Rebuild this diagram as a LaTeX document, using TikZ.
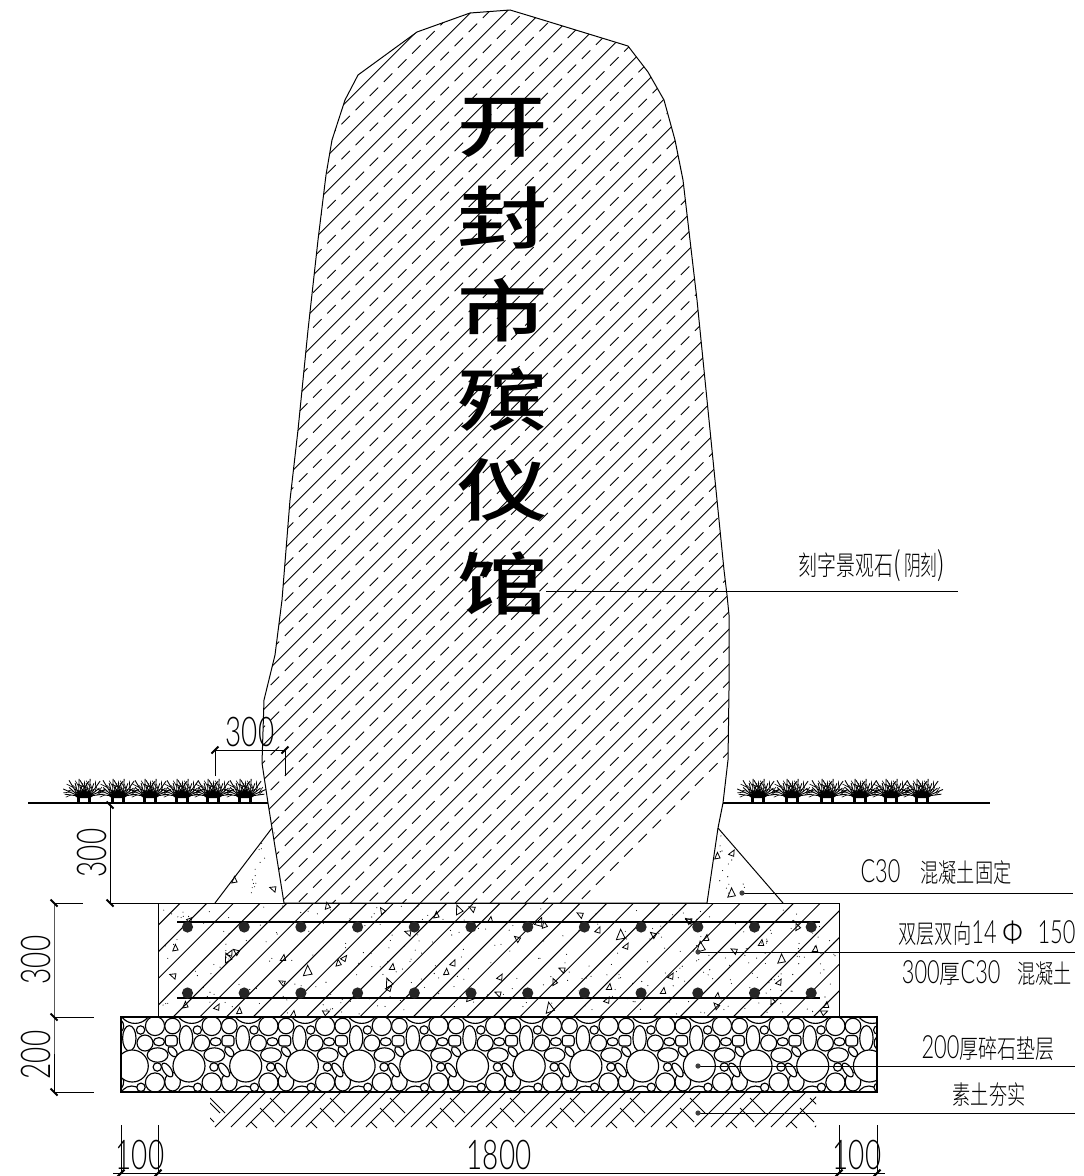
\documentclass[tikz,border=0pt]{standalone}
\usepackage{fontspec}
\setmainfont{Liberation Sans}
\newfontfamily\numf[UprightFont=* Light]{Lato}
\newfontfamily\cjk{Noto Sans CJK SC Light}
\newfontfamily\cjkb{Noto Sans CJK SC Medium}
\usetikzlibrary{calc}
\newcommand{\numtxt}[2]{\scalebox{0.68}[1]{\fontsize{#1}{#1}\selectfont\numf #2}}
\newcommand{\cjktxt}[3]{\scalebox{#2}[1]{\fontsize{#1}{#1}\selectfont\cjk #3}}
\newcommand{\titlechar}[1]{\scalebox{1.33}[1]{\fontsize{68}{68}\selectfont\cjkb #1}}
\tikzset{
  x=1pt,y=-1pt,
  outline/.style={line width=1pt,black},
  leader/.style={line width=1pt,black},
  dimln/.style={line width=0.9pt,black},
  dimtick/.style={line width=2.1pt,black},
  stone/.style={line width=1.15pt,draw=black,fill=white},
  lbl/.style={inner sep=0pt,outer sep=0pt,anchor=center},
  pics/tickb/.style={code={\draw[dimtick] (-3.5,-3.5) -- (3.5,3.5);}},
  pics/tickf/.style={code={\draw[dimtick] (-3.5,3.5) -- (3.5,-3.5);}},
  pics/bushy/.style={code={
    \foreach \tx in {-5.5,5.5}{
      \draw[line width=3.6pt] (\tx,0) -- (\tx,-7);
      \foreach \a/\r in {8/14,24/17,40/13,56/19,72/14,88/18,104/14,120/19,136/13,154/17,172/14}{
        \draw[line width=0.9pt] (\tx,-6) -- ++({\a}:{\r} and {-\r*0.95});
        \draw[line width=0.6pt] ($(\tx,-6)+({\a}:{\r*0.55} and {-\r*0.52})$) -- ++({\a+32}:{\r*0.4} and {-\r*0.38});
      }
    }
    \fill (-9,-6) -- (0,-12) -- (9,-6) -- (6,-4) -- (-6,-4) -- cycle;
  }},
}
\newcommand{\tri}[4]{\draw[line width=0.8pt,rotate around={#3:(#1,#2)}] (#1,#2)++(-#4*0.55,#4*0.5) -- ++(#4*1.1,0) -- ++(-#4*0.35,-#4*1.2) -- cycle;}
\begin{document}
\begin{tikzpicture}
\useasboundingbox (0,0) rectangle (1084,1176);
\fill[white] (0,0) rectangle (1084,1176);

% ---------- slab hatch
\begin{scope}
\clip (158,903) rectangle (839,1017);
\foreach \k in {0,...,36}{
  \pgfmathsetmacro\c{1056.7+26.67*\k}
  \draw[line width=1pt] (100,\c-100) -- (900,\c-900);
}
\end{scope}

% ---------- concrete haunches
\coordinate (hl1) at (215,903); \coordinate (hl2) at (272,828);
\coordinate (hr1) at (783,903); \coordinate (hr2) at (718,828);
\draw[outline] (hl1) -- (hl2);
\draw[outline] (hr1) -- (hr2);

% ---------- random speckle
\pgfmathsetseed{4711}
\foreach \i in {1,...,330}{
  \pgfmathsetmacro\px{161+rnd*675}
  \pgfmathsetmacro\py{906+rnd*108}
  \fill (\px,\py) circle[radius=0.55];
}
\foreach \i in {1,...,14}{
  \pgfmathsetmacro\py{rnd}
  \pgfmathsetmacro\pz{rnd}
  \fill ({270-\py*30-\pz*(22*(1-\py))+10},{832+\py*68}) circle[radius=0.55];
  \fill ({722+\py*40-\pz*(35*\py+6)},{835+\py*65}) circle[radius=0.55];
}

% ---------- aggregate triangles
\foreach \x/\y/\a/\s in {
234/880/10/5,273/889/80/5,327/906/20/5,382/911/40/5,190/921/200/5,175/948/10/5,173/976/80/5,
227/958/30/7,230/953/-20/5,236/952/60/5,283/958/0/5,307/971/10/8,282/983/70/5,338/963/15/5,344/958/-30/5,392/967/0/5,
388/983/30/7,389/988/-30/5,185/1005/10/5,217/1007/-20/5,239/1011/5/5,293/1014/0/5,326/1012/-60/5,
436/915/10/5,458/910/30/7,472/909/70/5,408/933/80/5,490/920/0/5,539/922/-15/7,544/925/20/5,580/915/70/5,598/930/-15/5,
517/939/60/5,620/935/10/8,626/946/-20/5,653/935/60/5,689/921/80/5,453/963/-15/5,446/972/5/5,500/977/-20/5,562/970/75/5,
554/982/30/5,671/976/-20/5,609/987/0/5,663/991/0/5,498/994/75/5,469/997/20/7,607/1000/-20/5,549/1008/20/8,
717/856/10/5,732/853/-20/5,731/893/10/7,688/921/60/5,797/927/30/5,706/938/0/5,700/947/15/8,761/943/0/5,734/951/70/5,
815/949/0/5,781/959/10/7,779/982/-20/5,717/996/0/5,772/1001/30/5,716/1006/50/5,826/1005/0/5,824/1012/-60/5}{
  \tri{\x}{\y}{\a}{\s}
}

% ---------- reinforcement
\coordinate (rt1) at (177,922); \coordinate (rt2) at (820,922);
\coordinate (rb1) at (177,998); \coordinate (rb2) at (820,998);
\draw[line width=1.1pt] (rt1) -- (rt2);
\draw[line width=1.1pt] (rb1) -- (rb2);
\foreach \i in {0,...,11}{
  \fill[black!85] ({187.5+56.7*\i},927) circle[radius=5.6];
  \fill[black!85] ({187.5+56.7*\i},993) circle[radius=5.6];
}

% ---------- slab outline
\coordinate (sl1) at (158,903); \coordinate (sl2) at (839,1017);
\draw[outline] (sl1) rectangle (sl2);

% ---------- soil hatch
\begin{scope}
\clip (210,1092) rectangle (816,1128);
\foreach \k in {0,...,10}{
  \pgfmathsetmacro\a{215+60*\k}
  \draw[line width=0.95pt] (\a,1127) -- ++(50,-50);
  \draw[line width=0.95pt] (\a+16,1127) -- ++(50,-50);
  \draw[line width=0.95pt] (\a+31,1127) -- ++(50,-50);
  \draw[line width=0.95pt] (\a+36,1122) -- ++(6,6);
  \draw[line width=0.95pt] (\a-15,1108) -- ++(14,14);
  \draw[line width=0.95pt] (\a-5,1098) -- ++(15,15);
}
\draw[line width=0.95pt] (205,1098) -- ++(15,15);
\end{scope}

% ---------- gravel
\begin{scope}
\clip (121,1017) rectangle (877,1092);
\foreach \k in {-3,...,11}{
  \begin{scope}[xshift={(245.7+56.7*\k)*1pt}]
    \draw[stone] (2.7,1006.7) circle[radius=16.7];
    \draw[stone] (-0.5,1098) circle[radius=12];
    \draw[stone] (-3,1038.3) ellipse[x radius=6.7,y radius=12.7];
    \draw[stone] (22.7,1082.5) circle[radius=9.6];
    \draw[stone] (40.3,1081.7) ellipse[x radius=7.8,y radius=9.3];
    \draw[stone] (25.3,1055) ellipse[x radius=10.4,y radius=7.2];
    \draw[stone] (22.7,1026) circle[radius=9.6];
    \draw[stone] (40.3,1026) circle[radius=7.8];
    \draw[stone] (12.7,1043) circle[radius=8];
    \draw[stone] (0,1066) circle[radius=16];
    \draw[stone,rotate around={35:(35,1070)}] (35,1070) ellipse[x radius=3.8,y radius=8];
    \draw[stone,rotate around={40:(40.3,1051.7)}] (40.3,1051.7) ellipse[x radius=3.4,y radius=6];
    \draw[stone] (25,1067) circle[radius=4.2];
    \draw[stone] (8.7,1087.3) circle[radius=4.2];
    \draw[stone] (8.3,1030) circle[radius=4.2];
    \draw[stone] (26.7,1041.7) ellipse[x radius=5.6,y radius=4.1];
    \draw[stone,rounded corners=3pt] (33,1035.5) rectangle (45,1046);
  \end{scope}
}
\end{scope}
\coordinate (gv1) at (121,1017); \coordinate (gv2) at (877,1092);
\draw[line width=1.2pt] (gv1) rectangle (gv2);

% ---------- rock
\path[save path=\rockpath] (510,10) -- (530,16) -- (628,46) -- (648,72) -- (664,100) -- (675,140) -- (683,180) -- (690,240) -- (697,300) -- (703,360) -- (710,430) -- (717,500) -- (724,570) -- (727,595) -- (729,615) -- (729,690) -- (728,760) -- (723,803) -- (718,828) -- (707,903) -- (284,903) -- (268,803) -- (262,763) -- (264,700) -- (275,655) -- (282,600) -- (290,500) -- (298,430) -- (308,330) -- (318,240) -- (326,175) -- (332,140) -- (345,100) -- (358,75) -- (417,32) -- (470,13) -- cycle;
\begin{scope}
\clip[use path=\rockpath];
\foreach \k in {0,...,29}{
  \pgfmathsetmacro\c{448.3+35*\k}
  \draw[line width=0.85pt] (200,\c-200) -- (800,\c-800);
  \draw[line width=0.85pt,dash pattern=on 12pt off 8pt] (200,\c+17.5-200) -- (800,\c+17.5-800);
}
\end{scope}
\draw[outline,use path=\rockpath];

% ---------- title
\node[lbl] (t1) at (503,128) {\titlechar{开}};
\node[lbl] (t2) at (503,218) {\titlechar{封}};
\node[lbl] (t3) at (503,310) {\titlechar{市}};
\node[lbl] (t4) at (503,400) {\titlechar{殡}};
\node[lbl] (t5) at (503,490) {\titlechar{仪}};
\node[lbl] (t6) at (503,583) {\titlechar{馆}};

% ---------- ground and plants
\coordinate (g1) at (28,803); \coordinate (g2) at (268,803);
\coordinate (g3) at (723,803); \coordinate (g4) at (990,803);
\draw[line width=1.1pt] (g1) -- (g2);
\draw[line width=1.1pt] (g3) -- (g4);
\foreach \x in {84,118,150,182,213,245,758,792,827,860,891,922}{
  \pic at (\x,802) {bushy};
}

% ---------- leaders
\coordinate (la1) at (546,591); \coordinate (la2) at (958,591);
\draw[leader] (la1) -- (la2);
\node[lbl] at (872,566) {\cjktxt{27}{0.7}{刻字景观石}\cjktxt{32}{0.75}{(}\hspace{3pt}\cjktxt{27}{0.62}{阴刻}\cjktxt{32}{0.75}{)}};
\coordinate (lb1) at (742,893); \coordinate (lb2) at (1073,893);
\draw[leader] (lb1) -- (lb2); \fill[black!75] (lb1) circle[radius=2.6];
\node[lbl] at (936,872) {\numtxt{32}{C30}\hspace{20pt}\cjktxt{26}{0.7}{混凝土固定}};
\coordinate (lc1) at (698,952); \coordinate (lc2) at (1075,952);
\draw[leader] (lc1) -- (lc2); \fill[black!75] (lc1) circle[radius=2.6];
\node[lbl] at (987,933) {\cjktxt{26}{0.7}{双层双向}\numtxt{32}{14}\hspace{6pt}\cjktxt{30}{0.9}{Φ}\hspace{14pt}\numtxt{32}{150}};
\node[lbl] at (987,973) {\numtxt{32}{300}\cjktxt{26}{0.8}{厚}\numtxt{32}{C30}\hspace{17pt}\cjktxt{26}{0.7}{混凝土}};
\coordinate (ld1) at (698,1066); \coordinate (ld2) at (1075,1066);
\draw[leader] (ld1) -- (ld2); \fill[black!75] (ld1) circle[radius=2.6];
\node[lbl] at (988,1048) {\numtxt{32}{200}\cjktxt{26}{0.73}{厚碎石垫层}};
\coordinate (le1) at (698,1113); \coordinate (le2) at (1075,1113);
\draw[leader] (le1) -- (le2); \fill[black!75] (le1) circle[radius=2.6];
\node[lbl] at (989,1095) {\cjktxt{26}{0.7}{素土夯实}};

% ---------- dimensions
\coordinate (d1) at (215,750); \coordinate (d2) at (285,750);
\coordinate (d1e) at (215,776); \coordinate (d2e) at (285,776);
\draw[dimln] (d1e) -- (d1) -- (d2) -- (d2e);
\pic at (d1) {tickf}; \pic at (d2) {tickf};
\node[lbl] at (250,732) {\numtxt{41}{300}};

\coordinate (v1) at (110,805); \coordinate (v2) at (110,903);
\draw[dimln] (v1) -- (v2);
\coordinate (v2e) at (170,903); \draw[dimln] (v2) -- (v2e);
\pic at (v1) {tickb}; \pic at (v2) {tickb};
\node[lbl,rotate=90] at (92,853) {\numtxt{41}{300}};

\coordinate (w1) at (54,903); \coordinate (w2) at (54,1017); \coordinate (w3) at (54,1092);
\coordinate (w1e) at (83,903); \coordinate (w2e) at (94,1017); \coordinate (w3e) at (94,1092);
\draw[dimln] (w1) -- (w2) -- (w3);
\draw[dimln] (w1) -- (w1e); \draw[dimln] (w2) -- (w2e); \draw[dimln] (w3) -- (w3e);
\pic at (w1) {tickb}; \pic at (w2) {tickb}; \pic at (w3) {tickb};
\node[lbl,rotate=90] at (36,960) {\numtxt{41}{300}};
\node[lbl,rotate=90] at (36,1055) {\numtxt{41}{200}};

\coordinate (b0) at (113,1173); \coordinate (b5) at (885,1173);
\draw[dimln] (b0) -- (b5);
\foreach \n/\x in {b1/121,b2/158,b3/839,b4/877}{
  \coordinate (\n) at (\x,1173);
  \coordinate (\n e) at (\x,1125);
  \draw[dimln] (\n e) -- (\n);
  \pic at (\n) {tickf};
}
\node[lbl] at (140,1155) {\numtxt{41}{100}};
\node[lbl] at (499,1155) {\numtxt{41}{1800}};
\node[lbl] at (857,1155) {\numtxt{41}{100}};
\end{tikzpicture}
\end{document}
